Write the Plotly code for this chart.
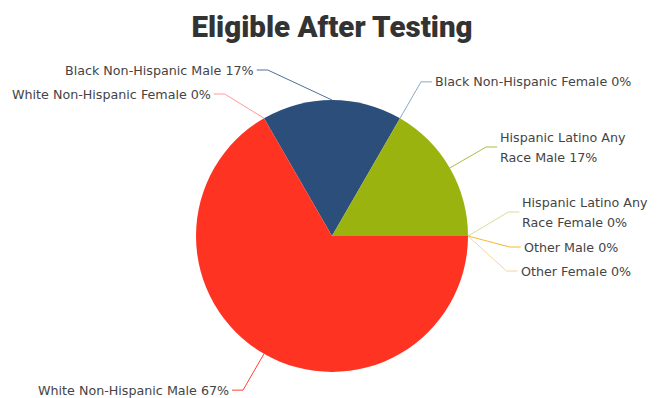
import math
import textwrap
import plotly.graph_objects as go

# ---- data ----
categories = [
    "Black Non-Hispanic Male",
    "Black Non-Hispanic Female",
    "Hispanic Latino Any Race Male",
    "Hispanic Latino Any Race Female",
    "Other Male",
    "Other Female",
    "White Non-Hispanic Male",
    "White Non-Hispanic Female",
]
values = [1, 0, 1, 0, 0, 0, 4, 0]

# ---- styles ----
slice_colors = ["#2B4F7A", "#8AA8C8", "#9BB30F", "#D0DC90",
                "#F5B830", "#F5D090", "#FF3322", "#FF9090"]
line_colors = ["#4F6F98", "#8AA8C8", "#A8C040", "#D4DE98",
               "#F5B830", "#F5D4A0", "#FF4433", "#FF9A9A"]

W, H = 664, 398
CX, CY, R = 332, 236, 136          # pie centre / radius in px
RE = 178                           # elbow radius in px
ROT = -30                          # start angle (deg, clockwise from 12 o'clock)
SEG = 11                           # horizontal leader segment
LINE_H = 20
CHAR_W = 7.2
FONT = dict(family="DejaVu Sans", size=12.7, color="#444444")

total = sum(values)
pcts = [round(v / total * 100) for v in values]
texts = [f"{c} {p}%" for c, p in zip(categories, pcts)]

# mid angles from the data
mids = []
acc = ROT
for v in values:
    ang = v / total * 360
    mids.append(acc + ang / 2)
    acc += ang

items = []
for i, m in enumerate(mids):
    rad = math.radians(m)
    sx, sy = math.sin(rad), -math.cos(rad)
    right = sx > 1e-9
    nat_x = CX + RE * sx
    nat_y = CY + RE * sy
    if right:
        avail = W - 2 - (nat_x + SEG + 2)
    else:
        avail = (nat_x - SEG - 2) - 2
    maxc = max(8, int(avail / CHAR_W))
    lines = textwrap.wrap(texts[i], maxc) if len(texts[i]) > maxc else [texts[i]]
    items.append(dict(i=i, right=right, edge=(CX + R * sx, CY + R * sy),
                      ny=nat_y, lines=lines, h=22 * len(lines) + 2))


def layout_side(side_items, ymin=58):
    side_items = sorted(side_items, key=lambda d: d["ny"])
    clusters = []
    for it in side_items:
        cl = dict(items=[it], c=it["ny"], h=it["h"])
        clusters.append(cl)
        while len(clusters) > 1:
            a, b = clusters[-2], clusters[-1]
            if a["c"] + a["h"] / 2 > b["c"] - b["h"] / 2:
                its = a["items"] + b["items"]
                merged = dict(items=its,
                              c=sum(x["ny"] for x in its) / len(its),
                              h=sum(x["h"] for x in its))
                clusters[-2:] = [merged]
            else:
                break
    top_prev = ymin
    for cl in clusters:
        top = max(cl["c"] - cl["h"] / 2, top_prev)
        for it in cl["items"]:
            it["y"] = top + it["h"] / 2
            top += it["h"]
        top_prev = top


layout_side([d for d in items if d["right"]])
layout_side([d for d in items if not d["right"]])

annotations = []
shapes = []


def px(x):
    return x / W


def py(y):
    return 1 - y / H


for it in items:
    dy = max(-RE + 1, min(RE - 1, it["y"] - CY))
    dx = math.sqrt(RE ** 2 - dy ** 2)
    ex = CX + dx if it["right"] else CX - dx
    ey = it["y"]
    hx = ex + SEG if it["right"] else ex - SEG
    x0, y0 = it["edge"]
    shapes.append(dict(type="path", xref="paper", yref="paper",
                       path=f"M {px(x0)},{py(y0)} L {px(ex)},{py(ey)} L {px(hx)},{py(ey)}",
                       line=dict(color=line_colors[it["i"]], width=1)))
    n = len(it["lines"])
    for k, ln in enumerate(it["lines"]):
        ly = ey + (k - (n - 1) / 2) * LINE_H
        annotations.append(dict(
            text=ln, x=px(hx + (1 if it["right"] else -1)), y=py(ly),
            xref="paper", yref="paper", showarrow=False,
            xanchor="left" if it["right"] else "right", yanchor="middle",
            font=FONT))

fig = go.Figure(go.Pie(
    labels=categories, values=values, sort=False, direction="clockwise",
    rotation=ROT, textinfo="none", hoverinfo="label+percent",
    marker=dict(colors=slice_colors, line=dict(width=0)),
    domain=dict(x=[(CX - R) / W, (CX + R) / W],
                y=[1 - (CY + R) / H, 1 - (CY - R) / H]),
    showlegend=False,
))

fig.update_layout(
    width=W, height=H,
    margin=dict(l=0, r=0, t=0, b=0),
    paper_bgcolor="white", plot_bgcolor="white",
    title=dict(text="Eligible After Testing", x=0.5, xanchor="center",
               y=1 - 27 / H, yanchor="middle", yref="container",
               font=dict(family="Roboto, DejaVu Sans, sans-serif", weight=900,
                         size=29.5, color="#333333")),
    annotations=annotations, shapes=shapes,
)

fig.write_html("out.html", config={"displayModeBar": False},
               post_script="document.body.style.margin='0';document.body.style.overflow='hidden';")
